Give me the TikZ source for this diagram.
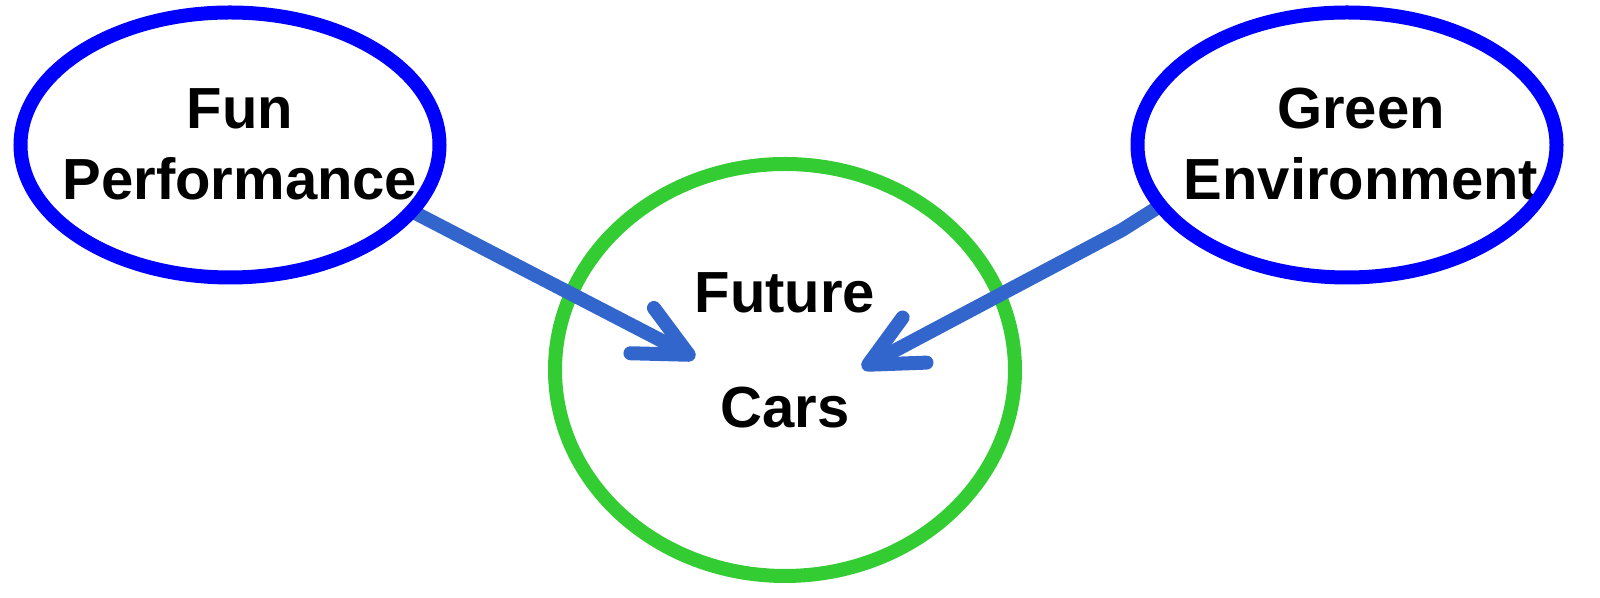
\documentclass[tikz,border=0pt]{standalone}
\usepackage{fontspec}
\setmainfont{Liberation Sans}
\usepackage{tikz}
\usetikzlibrary{shapes.geometric,arrows.meta}

\definecolor{goalblue}{RGB}{0,0,255}
\definecolor{carsgreen}{RGB}{51,204,51}
\definecolor{linkblue}{RGB}{51,102,204}

\pgfdeclarelayer{front}
\pgfsetlayers{main,front}

\begin{document}
\begin{tikzpicture}
            \tikzstyle{goal}=[ellipse, draw=goalblue, line width=0.28cm, outer sep=0pt, minimum width=8.38cm, minimum height=5.3cm]
            \tikzstyle{target}=[ellipse, draw=carsgreen, line width=0.28cm, minimum width=9.2cm, minimum height=8.24cm]
            \tikzstyle{caption}=[align=center, inner sep=0pt, font=\fontsize{33}{40.4}\selectfont\bfseries]
            \tikzstyle{link}=[draw=linkblue, line width=0.28cm, -{Straight Barb[length=1.05cm,width=1.02cm,round]}]
            \useasboundingbox (0,0) rectangle (32,11.96);
            \node[target] (cars) at (15.7,4.56) {};
            \begin{pgfonlayer}{front}
                \node[goal] (fun) at (4.6,9.06) {};
                \node[goal] (green) at (26.94,9.06) {};
            \end{pgfonlayer}
            \coordinate (funtip) at (13.9,4.8);
            \coordinate (greenbend) at (22.44,7.36);
            \coordinate (greentip) at (17.24,4.6);
            \draw[link] (fun.-20) -- (funtip);
            \draw[link] (green.198) -- (greenbend) -- (greentip);
            \node[caption] (funtext) at (4.8,9.08) {Fun\\Performance};
            \node[caption] (greentext) at (27.22,9.08) {Green\\Environment};
            \node[caption, font=\fontsize{33}{65.5}\selectfont\bfseries] (carstext) at (15.7,4.96) {Future\\Cars};
        \end{tikzpicture}
\end{document}
